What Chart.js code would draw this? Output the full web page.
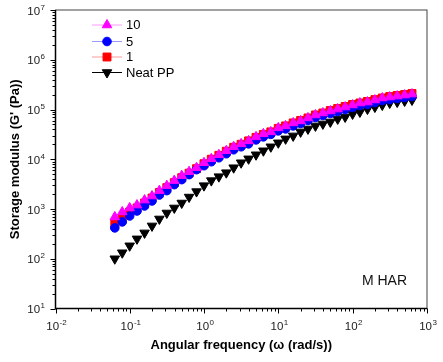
<!DOCTYPE html>
<html>
<head>
<meta charset="utf-8">
<script src="https://cdn.jsdelivr.net/npm/chart.js@4.4.1/dist/chart.umd.min.js"></script>
<style>
  html, body { margin: 0; padding: 0; background: #fff; }
  #wrap { width: 443px; height: 362px; }
</style>
</head>
<body>
<div id="wrap"><canvas id="chart"></canvas></div>
<script>
// angular frequency (rad/s)
const freq = [0.0628, 0.0791, 0.0996, 0.125, 0.158, 0.199, 0.250, 0.315, 0.397, 0.500,
  0.628, 0.791, 0.996, 1.25, 1.58, 1.99, 2.50, 3.15, 3.97, 5.00,
  6.28, 7.91, 9.96, 12.5, 15.8, 19.9, 25.0, 31.5, 39.7, 50.0,
  62.8, 79.1, 99.6, 125, 158, 199, 250, 315, 397, 500, 628];

// storage modulus G' (Pa)
const g10 = [692, 871, 1050, 1200, 1510, 1820, 2340, 2950, 3720, 4680,
  5620, 6760, 8510, 10200, 12300, 14800, 17800, 20400, 23400, 28200,
  32400, 35500, 42700, 46800, 53700, 58900, 67600, 77600, 85100, 93300,
  102000, 112000, 123000, 135000, 141000, 155000, 170000, 178000, 186000, 195000, 204000];
const g5 = [417, 550, 724, 912, 1150, 1450, 1910, 2340, 3090, 3890,
  4900, 6170, 7410, 8910, 10700, 12900, 15500, 17800, 20400, 24500,
  28200, 31600, 37200, 40700, 46800, 52500, 60300, 69200, 75900, 83200,
  91200, 100000, 110000, 120000, 126000, 138000, 151000, 158000, 166000, 174000, 182000];
const g1 = [501, 661, 871, 1050, 1320, 1660, 2140, 2690, 3390, 4270,
  5250, 6460, 8130, 10000, 12000, 14500, 17400, 20000, 23400, 27500,
  31600, 35500, 41700, 46800, 53700, 60300, 67600, 77600, 85100, 95500,
  105000, 115000, 126000, 135000, 145000, 158000, 170000, 182000, 191000, 200000, 209000];
const gNeat = [100, 132, 182, 251, 331, 457, 631, 832, 1050, 1320,
  1740, 2240, 2950, 3720, 4470, 5370, 6760, 8510, 10200, 12300,
  14800, 17800, 21400, 25700, 29500, 35500, 40700, 46800, 51300, 56200,
  64600, 70800, 81300, 89100, 102000, 112000, 123000, 135000, 141000, 148000, 155000];

const seriesNames = ['10', '5', '1', 'Neat PP'];

// tick labels are drawn as "10" with the exponent raised
const xTickValues = [0.01, 0.1, 1, 10, 100, 1000];
const xTickExps = ['-2', '-1', '0', '1', '2', '3'];
const yTickValues = [10, 100, 1000, 10000, 100000, 1000000, 10000000];
const yTickExps = ['1', '2', '3', '4', '5', '6', '7'];

const annotation = 'M HAR';

// styles
const colors = ['#ff00ff', '#0000ff', '#ff0000', '#000000'];
const legendLineColors = ['#ff99ff', '#9a9aff', '#ff9a9a', '#000000'];
const pointStyles = ['triangle', 'circle', 'rect', 'triangle'];
const pointRotations = [0, 0, 0, 180];
const pointRadii = [5.5, 4.3, 5.6, 5.5];

const FONT = 'Liberation Sans, Arial, sans-serif';

function toPoints(values) {
  return freq.map((f, i) => ({ x: f, y: values[i] }));
}

function drawMarker(ctx, style, rotation, x, y, r, color) {
  ctx.save();
  ctx.fillStyle = color;
  ctx.strokeStyle = color;
  ctx.lineWidth = 1;
  ctx.translate(x, y);
  ctx.rotate(rotation * Math.PI / 180);
  ctx.beginPath();
  if (style === 'circle') {
    ctx.arc(0, 0, r, 0, 2 * Math.PI);
  } else if (style === 'rect') {
    const s = r * Math.SQRT1_2;
    ctx.rect(-s, -s, 2 * s, 2 * s);
  } else {
    for (let k = 0; k < 3; k++) {
      const a = -Math.PI / 2 + k * 2 * Math.PI / 3;
      if (k) ctx.lineTo(r * Math.cos(a), r * Math.sin(a));
      else ctx.moveTo(r * Math.cos(a), r * Math.sin(a));
    }
    ctx.closePath();
  }
  ctx.fill();
  ctx.stroke();
  ctx.restore();
}

// "10" + superscript; align 'center' or 'right'; y is the middle of "10"
function drawPow(ctx, exp, x, y, align) {
  const base = '10';
  ctx.font = '11.5px ' + FONT;
  const wb = ctx.measureText(base).width;
  ctx.font = '8px ' + FONT;
  const we = ctx.measureText(exp).width;
  const total = wb + we + 0.5;
  const x0 = align === 'right' ? x - total : x - total / 2;
  ctx.textAlign = 'left';
  ctx.textBaseline = 'alphabetic';
  ctx.font = '11.5px ' + FONT;
  ctx.fillText(base, x0, y + 4.1);
  ctx.font = '8px ' + FONT;
  ctx.fillText(exp, x0 + wb + 0.5, y - 0.9);
}

// frame, log ticks, tick labels, legend and annotation
const decorPlugin = {
  id: 'decor',
  afterDraw(chart) {
    const ctx = chart.ctx;
    const a = chart.chartArea;
    const xs = chart.scales.x;
    const ys = chart.scales.y;

    ctx.save();
    ctx.strokeStyle = '#444';
    ctx.lineWidth = 1;
    ctx.strokeRect(a.left, a.top, a.right - a.left, a.bottom - a.top);
    ctx.strokeStyle = '#000';
    ctx.lineWidth = 1.5;
    ctx.beginPath();
    ctx.moveTo(a.left, a.top);
    ctx.lineTo(a.left, a.bottom);
    ctx.lineTo(a.right, a.bottom);
    ctx.stroke();

    // tick marks, major + minor
    ctx.lineWidth = 1;
    ctx.beginPath();
    xTickValues.forEach((v, i) => {
      for (let k = 1; k <= 9; k++) {
        if (i === xTickValues.length - 1 && k > 1) break;
        const px = Math.round(xs.getPixelForValue(v * k)) + 0.5;
        ctx.moveTo(px, a.bottom);
        ctx.lineTo(px, a.bottom + (k === 1 ? 5 : 3));
      }
    });
    yTickValues.forEach((v, i) => {
      for (let k = 1; k <= 9; k++) {
        if (i === yTickValues.length - 1 && k > 1) break;
        const py = Math.round(ys.getPixelForValue(v * k)) + 0.5;
        ctx.moveTo(a.left, py);
        ctx.lineTo(a.left - (k === 1 ? 5 : 3), py);
      }
    });
    ctx.stroke();

    // tick labels
    ctx.fillStyle = '#222';
    xTickValues.forEach((v, i) => {
      drawPow(ctx, xTickExps[i], xs.getPixelForValue(v) + 1, 326, 'center');
    });
    yTickValues.forEach((v, i) => {
      drawPow(ctx, yTickExps[i], 45, ys.getPixelForValue(v) + 0.5, 'right');
    });

    // legend
    const rowY = [25, 41.5, 57, 72.5];
    ctx.font = '13px ' + FONT;
    ctx.textBaseline = 'middle';
    ctx.textAlign = 'left';
    chart.data.datasets.forEach((ds, i) => {
      const y = rowY[i];
      ctx.strokeStyle = legendLineColors[i];
      ctx.lineWidth = 1;
      ctx.beginPath();
      ctx.moveTo(92, y);
      ctx.lineTo(122, y);
      ctx.stroke();
      drawMarker(ctx, pointStyles[i], pointRotations[i], 107, y, pointRadii[i], colors[i]);
      ctx.fillStyle = '#000';
      ctx.fillText(ds.label, 126, y + 0.5);
    });

    ctx.font = '14px ' + FONT;
    ctx.textAlign = 'center';
    ctx.fillStyle = '#111';
    ctx.fillText(annotation, 384.5, 281.5);
    ctx.restore();
  }
};

const datasets = [g10, g5, g1, gNeat].map((vals, i) => ({
  label: seriesNames[i],
  data: toPoints(vals),
  showLine: false,
  pointStyle: pointStyles[i],
  rotation: pointRotations[i],
  pointRadius: pointRadii[i],
  pointBorderWidth: 1,
  backgroundColor: colors[i],
  borderColor: colors[i]
}));

new Chart(document.getElementById('chart'), {
  type: 'scatter',
  data: { datasets },
  options: {
    responsive: true,
    maintainAspectRatio: false,
    animation: false,
    layout: { padding: { top: 10, right: 16, left: 0, bottom: 0 } },
    plugins: {
      legend: { display: false },
      tooltip: { enabled: false }
    },
    scales: {
      x: {
        type: 'logarithmic',
        min: 0.01,
        max: 1000,
        grid: { display: false, drawTicks: false },
        border: { display: false },
        afterBuildTicks: s => { s.ticks = xTickValues.map(v => ({ value: v })); },
        afterFit: s => { s.height = 53.5; },
        ticks: { display: false },
        title: {
          display: true,
          text: 'Angular frequency (\u03C9 (rad/s))',
          color: '#000',
          font: { family: FONT, size: 13, weight: 'bold' },
          padding: { top: 0, bottom: 9 }
        }
      },
      y: {
        type: 'logarithmic',
        min: 10,
        max: 10000000,
        grid: { display: false, drawTicks: false },
        border: { display: false },
        afterBuildTicks: s => { s.ticks = yTickValues.map(v => ({ value: v })); },
        afterFit: s => { s.width = 55.5; },
        ticks: { display: false },
        title: {
          display: true,
          text: "Storage modulus (G' (Pa))",
          color: '#000',
          font: { family: FONT, size: 13, weight: 'bold' },
          padding: { top: 8, bottom: 0 }
        }
      }
    }
  },
  plugins: [decorPlugin]
});
</script>
</body>
</html>
